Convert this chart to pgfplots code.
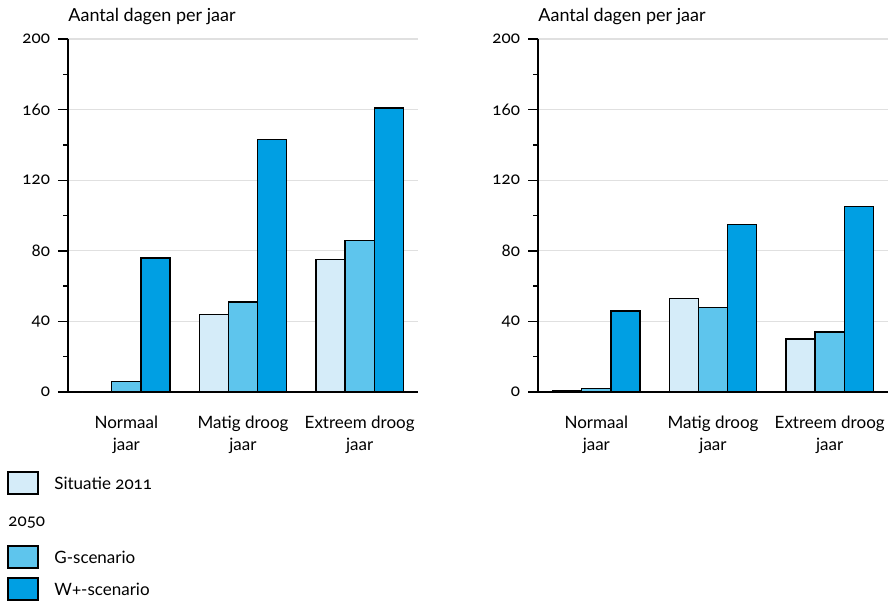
\documentclass[border=0pt]{standalone}
\usepackage{fontspec}
\setmainfont{Lato}[Numbers=OldStyle]
\usepackage{pgfplots}
\pgfplotsset{compat=1.18}
\definecolor{c11}{RGB}{213,236,249}
\definecolor{cG}{RGB}{94,197,237}
\definecolor{cW}{RGB}{0,159,227}
\pgfplotsset{
 panel/.style={
  scale only axis, width=175pt, height=176.5pt,
  anchor=south west,
  xmin=-0.5, xmax=2.5, ymin=0, ymax=200,
  axis x line=bottom, axis y line=left,
  axis line style={-, black, line width=0.7pt},
  xtick={0,1,2},
  xticklabels={Normaal\\jaar, Matig droog\\jaar, Extreem droog\\jaar},
  xticklabel style={align=center, yshift=-4pt},
  x tick style={draw=none},
  ytick={0,40,...,200}, minor ytick={20,60,...,180},
  yticklabel style={xshift=-1pt},
  y tick style={black, line width=0.7pt},
  tick align=outside, major tick length=5pt, minor tick length=2.5pt,
  ymajorgrids, grid style={line width=0.6pt, black!12},
  /pgf/number format/assume math mode=true,
  ybar, bar width=0.25,
  every axis plot/.append style={draw=black, line width=0.7pt},
  clip=false,
 }
}
\begin{document}
\fontsize{8.5}{11}\selectfont
\begin{tikzpicture}
\useasboundingbox (0,0) rectangle (444pt,-300pt);
\begin{axis}[panel, at={(34pt,-196pt)}]
\addplot[fill=c11, bar shift=-0.25] coordinates {(0,0) (1,44) (2,75)};
\addplot[fill=cG, bar shift=0] coordinates {(0,6) (1,51) (2,86)};
\addplot[fill=cW, bar shift=0.25] coordinates {(0,76) (1,143) (2,161)};
\end{axis}
\begin{axis}[panel, at={(269pt,-196pt)}]
\addplot[fill=c11, bar shift=-0.25] coordinates {(0,1) (1,53) (2,30)};
\addplot[fill=cG, bar shift=0] coordinates {(0,2) (1,48) (2,34)};
\addplot[fill=cW, bar shift=0.25] coordinates {(0,46) (1,95) (2,105)};
\end{axis}
\node[anchor=west, inner sep=0, font=\fontsize{9}{11}\selectfont] at (34pt,-8.5pt) {Aantal dagen per jaar};
\node[anchor=west, inner sep=0, font=\fontsize{9}{11}\selectfont] at (269pt,-8.5pt) {Aantal dagen per jaar};
% legend
\draw[fill=c11, line width=0.7pt] (4pt,-236pt) rectangle (19pt,-247pt);
\node[anchor=west, inner sep=0] at (27pt,-241.5pt) {Situatie 2011};
\node[anchor=west, inner sep=0] at (4pt,-261.5pt) {2050};
\draw[fill=cG, line width=0.7pt] (4pt,-273pt) rectangle (19pt,-284pt);
\node[anchor=west, inner sep=0] at (27pt,-278.5pt) {G-scenario};
\draw[fill=cW, line width=0.7pt] (4pt,-289pt) rectangle (19pt,-300pt);
\node[anchor=west, inner sep=0] at (27pt,-294.5pt) {W+-scenario};
\end{tikzpicture}
\end{document}
